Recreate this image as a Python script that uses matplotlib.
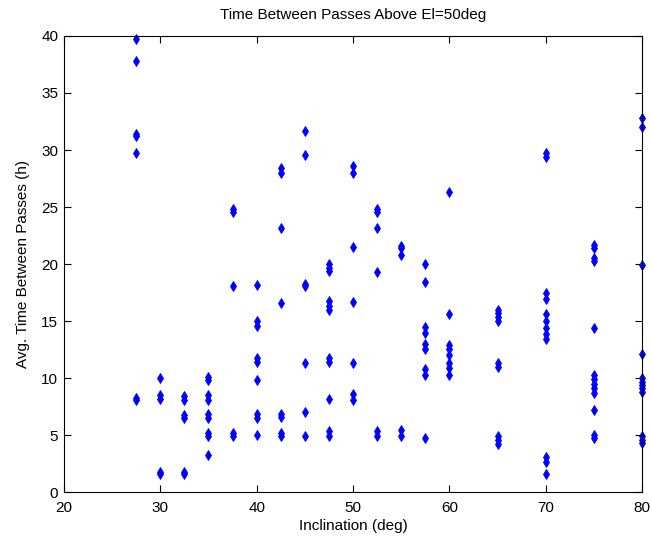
import numpy as np
import matplotlib
matplotlib.use('Agg')
import matplotlib.pyplot as plt

# inclinations (deg) and the avg. time between passes (h) seen at each
inclinations = [27.5, 30, 32.5, 35, 37.5, 40, 42.5, 45, 47.5, 50,
                52.5, 55, 57.5, 60, 65, 70, 75, 80]
t_27 = [39.7, 37.8, 31.4, 31.2, 29.7, 8.3, 8.1]
t_30 = [10.0, 8.5, 8.2, 1.8, 1.6]
t_32 = [8.4, 8.1, 6.8, 6.5, 1.8, 1.6]
t_35 = [10.1, 9.8, 8.5, 8.1, 6.9, 6.5, 5.2, 4.9, 3.3]
t_37 = [24.8, 24.6, 18.1, 5.2, 4.9]
t_40 = [18.2, 15.0, 14.6, 11.8, 11.4, 9.8, 6.9, 6.5, 5.0]
t_42 = [28.4, 28.0, 23.2, 16.6, 6.9, 6.6, 5.2, 4.9]
t_45 = [31.7, 29.6, 18.3, 18.1, 11.3, 7.0, 4.9]
t_47 = [20.0, 19.7, 19.4, 16.8, 16.3, 16.0, 11.8, 11.4, 8.2, 5.4, 4.9]
t_50 = [28.6, 28.0, 21.5, 16.7, 11.3, 8.6, 8.1]
t_52 = [24.8, 24.6, 23.2, 19.3, 5.4, 4.9]
t_55 = [21.6, 21.4, 20.8, 5.5, 4.9]
t_57 = [20.0, 18.4, 14.5, 14.0, 13.0, 12.6, 10.8, 10.3, 4.8]
t_60 = [26.3, 15.6, 12.9, 12.6, 12.0, 11.3, 10.9, 10.3]
t_65 = [16.0, 15.7, 15.4, 15.0, 11.3, 11.0, 4.9, 4.6, 4.2]
t_70 = [29.7, 29.4, 17.5, 16.9, 15.6, 15.0, 14.4, 13.9, 13.4, 3.1, 2.7, 1.6]
t_75 = [21.7, 21.4, 20.5, 20.3, 14.4, 10.3, 9.9, 9.5, 9.1, 8.7, 7.2, 5.0, 4.8]
t_80 = [32.8, 32.0, 19.9, 12.1, 10.0, 9.7, 9.4, 9.1, 8.8, 4.9, 4.6, 4.3]

times = [t_27, t_30, t_32, t_35, t_37, t_40, t_42, t_45, t_47, t_50,
         t_52, t_55, t_57, t_60, t_65, t_70, t_75, t_80]

x = np.concatenate([[inc] * len(ts) for inc, ts in zip(inclinations, times)])
y = np.concatenate(times)

plt.rcParams['font.family'] = ['Liberation Sans', 'DejaVu Sans']
plt.rcParams['font.size'] = 11

fig = plt.figure(figsize=(6.52, 5.44), dpi=100)
ax = fig.add_axes([0.098, 0.095, 0.887, 0.839])

ax.plot(x, y, 'd', color='#0000ff', markersize=5, markeredgewidth=0.6,
        clip_on=False)

ax.set_xlim(20, 80)
ax.set_ylim(0, 40)
ax.set_xticks(np.arange(20, 81, 10))
ax.set_yticks(np.arange(0, 41, 5))
ax.tick_params(direction='in', top=True, right=True, length=5, width=0.8)
ax.tick_params(axis='x', pad=6)
ax.tick_params(axis='y', pad=4)
for s in ax.spines.values():
    s.set_linewidth(0.8)

ax.set_title('Time Between Passes Above El=50deg', fontsize=11, pad=12)
ax.set_xlabel('Inclination (deg)', fontsize=11, labelpad=3)
ax.set_ylabel('Avg. Time Between Passes (h)', fontsize=11, labelpad=8)

fig.savefig('out.png', dpi=100)
